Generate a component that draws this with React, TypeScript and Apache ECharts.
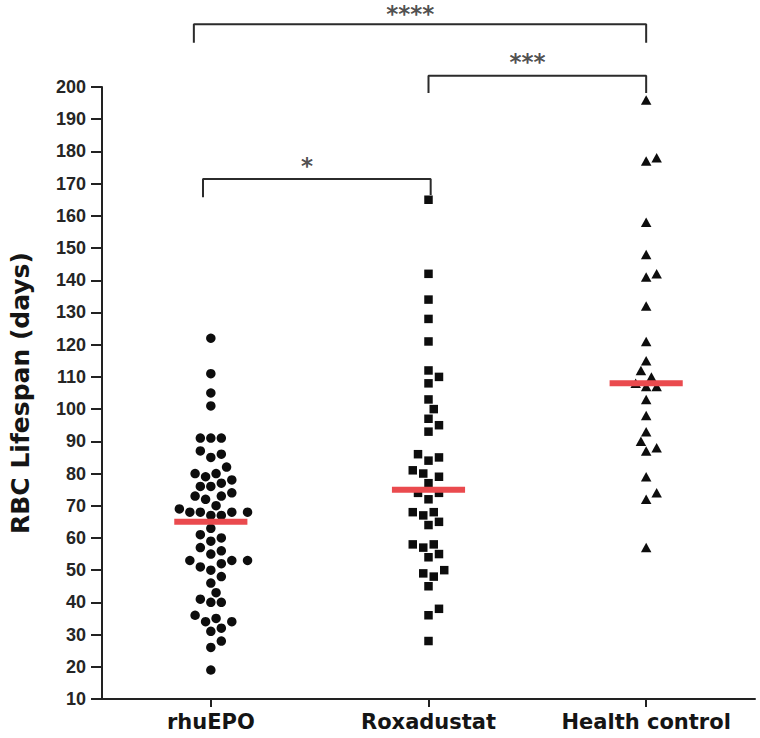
import React, { useEffect, useRef } from "react";
import * as echarts from "echarts";

const categories = ["rhuEPO", "Roxadustat", "Health control"];

const rhuEPO = [
  122, 111, 105, 101, 91, 91, 91, 87, 85, 86, 82, 79, 80, 80, 78, 77, 76, 76,
  74, 73, 72, 73, 69, 68, 68, 67, 67, 68, 68, 70, 63, 61, 60, 59, 56, 55, 57,
  53, 52, 50, 48, 51, 53, 53, 46, 43, 41, 40, 40, 36, 34, 35, 34, 31, 32, 28,
  26, 19,
];

const roxadustat = [
  165, 142, 134, 128, 121, 112, 110, 108, 103, 100, 97, 95, 93, 86, 85, 84, 81,
  80, 79, 77, 74, 74, 72, 68, 67, 68, 65, 64, 58, 57, 58, 55, 54, 50, 49, 48,
  45, 38, 36, 28,
];

const healthControl = [
  196, 178, 177, 158, 148, 142, 141, 132, 121, 115, 112, 110, 108, 107, 107,
  103, 98, 93, 90, 88, 87, 79, 74, 72, 57,
];

const centerLines = [65, 75, 108];

const significanceLabels = ["****", "***", "*"];

const yMin = 10;
const yMax = 200;
const yInterval = 10;

const W = 760;
const H = 738;
const GRID = { left: 95, right: 5, top: 87, bottom: 39 };

function swarm(
  values: number[],
  center: number,
  pxPerX: number,
  pxPerY: number,
  diameter: number
): [number, number][] {
  const order = values.map((v, i) => ({ v, i })).sort((a, b) => a.v - b.v);
  const placed: { x: number; y: number }[] = [];
  const out: [number, number][] = new Array(values.length);
  const step = diameter / 2;
  const d2 = diameter * diameter;
  for (const { v, i } of order) {
    const y = v * pxPerY;
    let chosen = 0;
    for (let k = 0; k < 200; k++) {
      const cands = k === 0 ? [0] : [k * step, -k * step];
      let ok = false;
      for (const c of cands) {
        if (placed.every((p) => (p.x - c) ** 2 + (p.y - y) ** 2 >= d2)) {
          chosen = c;
          ok = true;
          break;
        }
      }
      if (ok) break;
    }
    placed.push({ x: chosen, y });
    out[i] = [center + chosen / pxPerX, v];
  }
  return out;
}

export default function App() {
  const ref = useRef<HTMLDivElement>(null);

  useEffect(() => {
    if (!ref.current) return;
    const chart = echarts.init(ref.current, undefined, { renderer: "svg" });

    const plotW = W - GRID.left - GRID.right;
    const plotH = H - GRID.top - GRID.bottom;
    const pxPerX = plotW / categories.length;
    const pxPerY = plotH / (yMax - yMin);

    const groups = [rhuEPO, roxadustat, healthControl];
    const symbols = ["circle", "rect", "triangle"];
    const sizes: any[] = [9.5, 8.5, [10.5, 9.5]];

    const scatterSeries = groups.map((vals, gi) => ({
      type: "scatter",
      xAxisIndex: 1,
      yAxisIndex: 0,
      symbol: symbols[gi],
      symbolSize: sizes[gi],
      itemStyle: { color: "#0d0d0d", opacity: 1 },
      data: swarm(vals, gi, pxPerX, pxPerY, 10.6),
      z: 2,
    }));

    const halfLen = 0.168;
    const centerSeries = centerLines.map((m, gi) => ({
      type: "line",
      xAxisIndex: 1,
      yAxisIndex: 0,
      symbol: "none",
      lineStyle: { color: "#ea4a4e", width: 6, cap: "butt" },
      data: [
        [gi - halfLen, m],
        [gi + halfLen, m],
      ],
      z: 4,
    }));

    // bracket geometry (value units): x1, x2, level, drop1, drop2
    const brackets = [
      { x1: -0.078, x2: 2.0, level: 219.5, d1: 213.7, d2: 213.7 },
      { x1: 1.0, x2: 2.0, level: 203.5, d1: 198.1, d2: 198.1 },
      { x1: -0.036, x2: 1.01, level: 171.4, d1: 165.8, d2: 166.5 },
    ];
    const labelLevels = [222.8, 207.8, 175.6];

    const bracketSeries = brackets.map((b) => ({
      type: "line",
      xAxisIndex: 1,
      yAxisIndex: 0,
      symbol: "none",
      clip: false,
      lineStyle: { color: "#2b2b2b", width: 2 },
      data: [
        [b.x1, b.d1],
        [b.x1, b.level],
        [b.x2, b.level],
        [b.x2, b.d2],
      ],
      z: 3,
    }));

    const labelSeries = {
      type: "scatter",
      xAxisIndex: 1,
      yAxisIndex: 0,
      clip: false,
      symbolSize: 1,
      itemStyle: { color: "rgba(0,0,0,0)" },
      silent: true,
      label: {
        show: true,
        position: "inside",
        formatter: (p: any) => significanceLabels[p.dataIndex],
        fontFamily: "DejaVu Sans",
        fontWeight: "bold",
        fontSize: 23,
        color: "#222222",
      },
      data: brackets.map((b, i) => [(b.x1 + b.x2) / 2 - 0.045, labelLevels[i]]),
      z: 5,
    };

    chart.setOption({
      animation: false,
      backgroundColor: "#ffffff",
      grid: { ...GRID, containLabel: false },
      xAxis: [
        {
          type: "category",
          data: categories,
          boundaryGap: true,
          axisLine: { show: true, onZero: false, lineStyle: { color: "#222", width: 2 } },
          axisTick: {
            show: true,
            alignWithLabel: true,
            length: 8,
            lineStyle: { color: "#222", width: 2 },
          },
          axisLabel: {
            interval: 0,
            fontFamily: "DejaVu Sans",
            fontWeight: "bold",
            fontSize: 21,
            color: "#151515",
            margin: 12,
          },
          splitLine: { show: false },
        },
        {
          type: "value",
          show: false,
          min: -0.5,
          max: 2.5,
        },
      ],
      yAxis: {
        type: "value",
        min: yMin,
        max: yMax,
        interval: yInterval,
        name: "RBC Lifespan (days)",
        nameLocation: "middle",
        nameGap: 69,
        nameTextStyle: {
          fontFamily: "DejaVu Sans",
          fontWeight: "bold",
          fontSize: 25,
          color: "#151515",
        },
        axisLine: { show: true, onZero: false, lineStyle: { color: "#222", width: 2 } },
        axisTick: {
          show: true,
          length: 11,
          lineStyle: { color: "#222", width: 2 },
        },
        axisLabel: {
          fontFamily: "Liberation Sans",
          fontWeight: "bold",
          fontSize: 18,
          color: "#252525",
          margin: 16,
        },
        splitLine: { show: false },
      },
      series: [...scatterSeries, ...centerSeries, ...bracketSeries, labelSeries],
    });

    return () => chart.dispose();
  }, []);

  return (
    <div
      ref={ref}
      style={{ position: "fixed", left: 0, top: 0, width: W, height: H, background: "#fff" }}
    />
  );
}
